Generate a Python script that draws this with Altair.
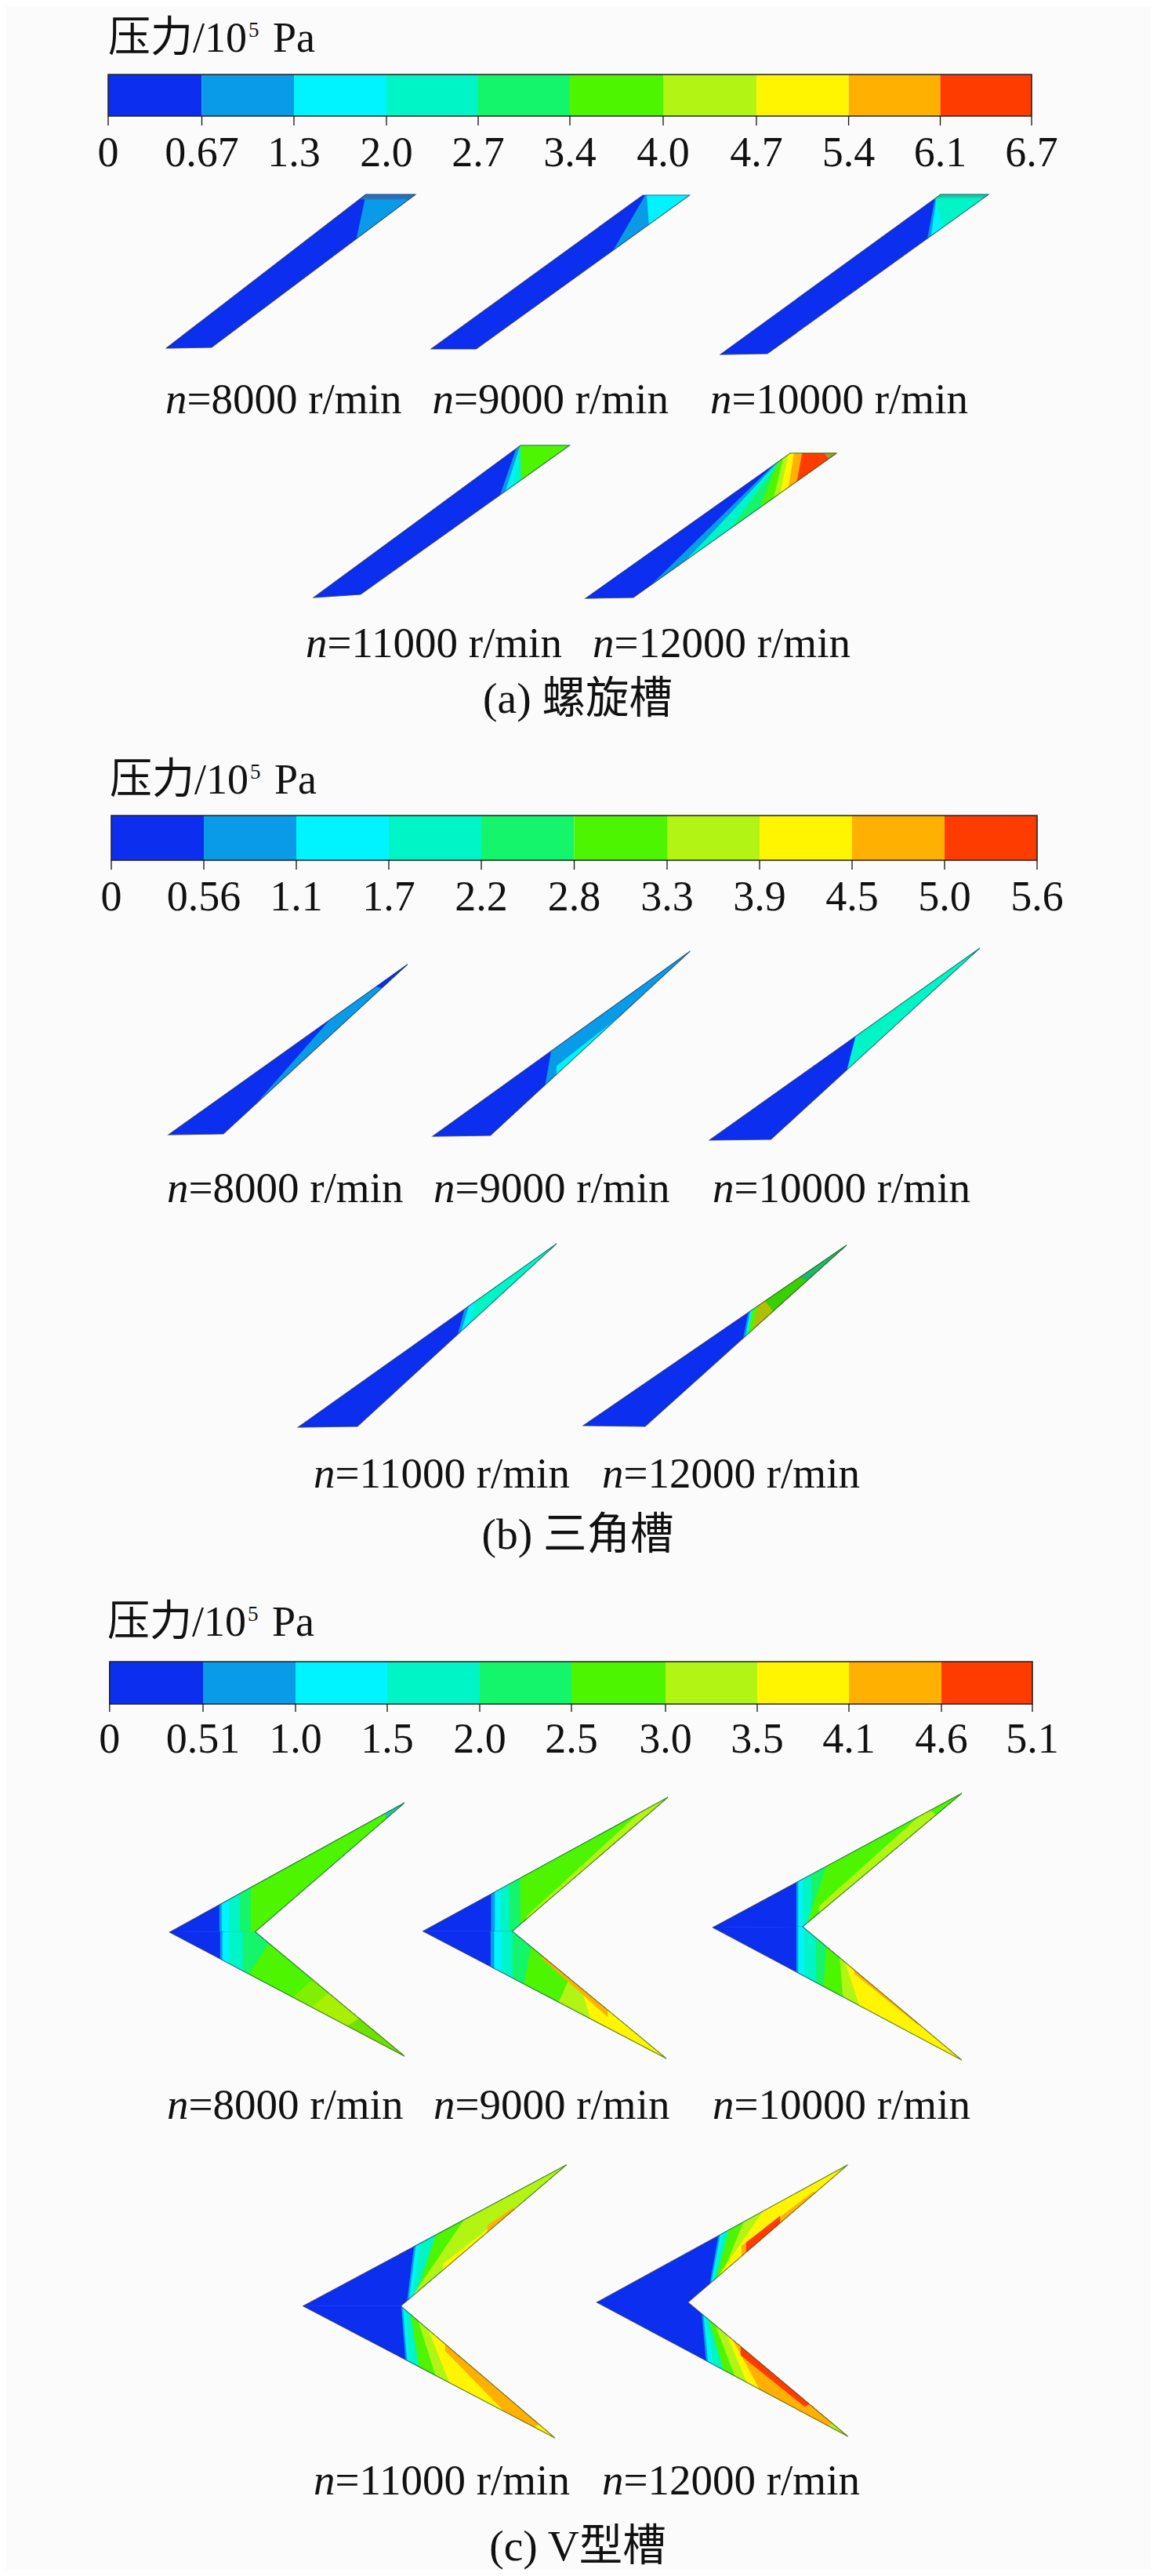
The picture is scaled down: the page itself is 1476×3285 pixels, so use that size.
import altair as alt
import pandas as pd

FONT = "Liberation Serif, Noto Sans CJK SC"
BG = "#FBFBFB"
C0, C1, C2, C3, C4 = "#0B2EEF", "#0A9BE8", "#00F4FF", "#00F5C6", "#14F56C"
C5, C6, C7, C8, C9 = "#4DF500", "#B2F514", "#FFF500", "#FFB000", "#FF3C00"
BAR_COLORS = [C0, C1, C2, C3, C4, C5, C6, C7, C8, C9]

LABELS_A = ["0", "0.67", "1.3", "2.0", "2.7", "3.4", "4.0", "4.7", "5.4", "6.1", "6.7"]
LABELS_B = ["0", "0.56", "1.1", "1.7", "2.2", "2.8", "3.3", "3.9", "4.5", "5.0", "5.6"]
LABELS_C = ["0", "0.51", "1.0", "1.5", "2.0", "2.5", "3.0", "3.5", "4.1", "4.6", "5.1"]
TICKS_A = [138, 257.5, 375, 493, 610, 727, 846, 965, 1082.6, 1199.5, 1316]
TICKS_B = [142, 260, 378, 496, 614, 732.5, 851, 969, 1087, 1205, 1323]
TICKS_C = [139.8, 259, 377, 494, 612, 729, 849, 966, 1083, 1201, 1317]
# top, bottom, tick end, label baseline of each colour bar
BARS = [(95, 148, 160, 212, TICKS_A, LABELS_A),
        (1040, 1097, 1109, 1161, TICKS_B, LABELS_B),
        (2119, 2173, 2183, 2235, TICKS_C, LABELS_C)]

# start of legend title, baseline
TITLES = [(138, 66), (140, 1012), (137, 2086)]
CAPTIONS = [("(a) 螺旋槽", 737, 909), ("(b) 三角槽", 737, 1975), ("(c) V型槽", 737, 3265)]
SPEEDS = [8000, 9000, 10000, 11000, 12000]
SPEED_ROWS = [([211, 551.5, 906, 390, 756], 527, 838),
              ([213, 553, 909, 400, 768], 1533, 1897),
              ([213, 553, 909, 400, 768], 2702, 3181)]

def V(x):
    return ((x, 4000), (x, 0))

def VL(x):
    return ((x, 0), (x, 4000))

# A contour is a line p -> q; the colour fills the right-hand side of travel.
# A band may name further lines that bound it.
SLOTS = [
    ([(466.5, 248), (530, 248), (270, 443), (212, 444)], [
        (C1, (455, 304), (465, 257)),
        ("#2A70B8", (540, 254), (460, 254))]),
    ([(820, 249), (879.5, 249), (607.5, 445), (550, 445)], [
        (C1, (782, 320), (821, 253)),
        (C2, (828, 287), (825.5, 252))]),
    ([(1200, 248), (1261, 248), (979, 451), (919, 452)], [
        (C1, (1183, 305), (1192, 258)),
        (C2, (1188, 300), (1194, 258)),
        (C3, (1203, 290), (1195, 258)),
        ("#1FC4A0", (1270, 252), (1190, 252))]),
    ([(664, 568), (726.5, 568), (460, 758), (400, 762)], [
        (C1, (641, 623), (656, 580)),
        (C2, (648, 617), (660, 580)),
        (C3, (656, 612), (662, 580)),
        (C5, (665, 608), (664, 578))]),
    ([(1008, 578), (1067, 578), (808, 762), (747, 763)], [
        (C1, (829.6, 747), (980, 600)),
        (C2, (850, 743), (982.7, 600)),
        (C3, (911, 677), (985, 600)),
        (C4, (952, 647), (987.8, 597)),
        (C5, (975, 633), (992, 590)),
        (C6, (990, 623), (999, 585)),
        (C7, (998, 617), (1005.6, 580)),
        (C8, (1008, 610), (1013, 578)),
        (C9, (1018, 607), (1023.5, 578)),
        ("#9AA030", (1059, 587), (1051.5, 578))]),
    ([(215, 1447), (519.6, 1230), (285, 1446)], [
        (C1, (348.4, 1383), (418.6, 1303)),
        (C0, (495.8, 1262), (467.7, 1255))]),
    ([(552, 1449), (880.3, 1213), (625.6, 1448)], [
        (C1, (695.8, 1383), (702.8, 1343)),
        (C2, (713.3, 1357), (832.6, 1263), V(710), VL(850))]),
    ([(905, 1454), (1250, 1209), (983.5, 1453)], [
        (C2, (1081.8, 1360), (1092, 1320)),
        (C3, (1085, 1357), (1095.8, 1318))]),
    ([(380.4, 1820), (710, 1586), (456, 1819)], [
        (C1, (585.4, 1697), (592.7, 1670)),
        (C2, (590, 1693), (598.5, 1665)),
        (C3, (600, 1683), (607, 1658))]),
    ([(744, 1818), (1079.8, 1588), (823, 1819)], [
        (C1, (949, 1703), (955, 1673)),
        (C2, (952, 1700), (957, 1673)),
        (C5, (955, 1697), (960, 1672)),
        ("#B0C000", (961, 1692), (966, 1668)),
        ("#38D000", (985, 1670), (974.6, 1657)),
        ("#20B868", (1031, 1633), (1017, 1628))]),
]

# V grooves: upper arm and lower arm have their own contours
V_GROOVES = [
    ((216.4, 2464), (516, 2299), (325.5, 2463.5), (516, 2622), [
        (C1, V(280)), (C2, V(283)), (C3, V(292)), (C4, V(306)), (C5, V(320)),
        ("#20C8A0", V(492))], [
        (C1, V(281)), (C2, V(284)), (C3, V(292)), (C4, V(310)),
        (C5, (318, 2517), (342, 2480)),
        ("#80F000", (373.7, 2547), (401, 2523)),
        ("#A8F000", (401, 2557), (421, 2540)),
        ("#70E000", (449, 2580), (468.5, 2567))]),
    ((539.7, 2462.7), (852, 2292), (653.5, 2462.7), (850, 2625), [
        (C1, V(626.6)), (C2, V(631.4)), (C3, V(638.5)), (C4, V(650)), (C5, V(664)),
        (C6, (690, 2427), (785, 2340), V(672))], [
        (C1, V(626)), (C2, V(630.6)), (C3, V(640.5)), (C4, V(654)),
        (C5, (668, 2533), (678, 2480)),
        (C6, (709.6, 2560), (729.4, 2517)),
        (C7, (753, 2573), (741, 2533)),
        (C8, (773, 2570), (698, 2503), V(692), VL(775))]),
    ((909.4, 2458), (1226.8, 2287), (1024, 2457), (1226.8, 2627), [
        (C1, V(1016)), (C2, V(1018.5)), (C3, V(1024)), (C4, V(1035)),
        (C5, (1031.5, 2447), (1050, 2393)),
        (C6, (1057, 2420), (1124, 2360), V(1045)),
        (C5, (1198, 2317), (1185, 2307))], [
        (C1, V(1016)), (C2, V(1018.5)), (C3, V(1026)), (C4, V(1041)),
        (C5, (1050, 2540), (1053.6, 2493)),
        (C6, (1076, 2553), (1072, 2503)),
        (C7, (1101.8, 2573), (1083, 2517)),
        (C8, (1135, 2553), (1094, 2520), V(1090)),
        (C7, (1161, 2597), (1175.7, 2577))]),
    ((386.7, 2940.7), (722.6, 2760.7), (511.2, 2940.7), (708, 3109), [
        (C1, (520, 2930), (528, 2867)),
        (C2, (522.4, 2927), (530.6, 2865)),
        (C3, (527, 2920), (535.5, 2862)),
        (C5, (537, 2907), (556, 2850)),
        (C6, (554, 2887), (592.7, 2830)),
        (C7, (578, 2877), (660.5, 2813), V(565)),
        (C8, (629, 2833), (651, 2818), V(622), VL(655)),
        (C6, (694.5, 2787), (675, 2780))], [
        (C1, (517.5, 3010), (512.7, 2950)),
        (C2, (519.5, 3010), (514.7, 2950)),
        (C3, (522.5, 3010), (517.7, 2950)),
        (C5, (534.5, 3017), (525, 2957)),
        (C6, (556, 3030), (537, 2970)),
        (C7, (578, 3050), (551.5, 2983)),
        (C8, (631.5, 3063), (573, 3003), V(568)),
        (C7, (680, 3097), (699.3, 3083))]),
    ((761.4, 2936), (1081.3, 2760.7), (877.7, 2936), (1081.3, 3106.7), [
        (C1, (907.8, 2900), (916.5, 2851.7)),
        (C2, (910, 2898), (919, 2850)),
        (C3, (912.6, 2895), (922.3, 2848)),
        (C5, (917.4, 2890), (929.6, 2845)),
        (C6, (929.6, 2880), (949, 2833)),
        (C7, (939, 2870), (975.6, 2817)),
        (C8, (951.4, 2860), (1004.7, 2820), V(946)),
        (C9, (958, 2855), (995, 2826), V(952), VL(995)),
        (C7, (1038.6, 2795), (1024, 2790)),
        (C6, (1072.6, 2768), (1063, 2765))], [
        (C1, (900.5, 3006.7), (895.6, 2953)),
        (C2, (903, 3008), (898, 2955)),
        (C3, (910, 3012), (900.5, 2960)),
        (C5, (922.3, 3020), (907.8, 2970)),
        (C6, (936.8, 3028), (917.4, 2977)),
        (C7, (953.8, 3040), (927, 2977)),
        (C8, (970.8, 3050), (936.8, 2987)),
        (C9, (1024, 3067), (936.8, 2997), V(945)),
        (C8, (1014, 3076), (1038.6, 3063)),
        (C6, (1053, 3096), (1067.7, 3086))]),
]


def clip(poly, p, q):
    """Part of poly to the right of travel along p -> q (screen coordinates)."""
    def side(a):
        return (q[0] - p[0]) * (a[1] - p[1]) - (q[1] - p[1]) * (a[0] - p[0])
    out = []
    for i, a in enumerate(poly):
        b = poly[(i + 1) % len(poly)]
        sa, sb = side(a), side(b)
        if sa >= 0:
            out.append(a)
        if (sa >= 0) != (sb >= 0):
            t = sa / (sa - sb)
            out.append((a[0] + t * (b[0] - a[0]), a[1] + t * (b[1] - a[1])))
    return out


fills, outlines = [], []


def add(rows, poly, color):
    pid = len(set(r["poly"] for r in rows))
    for i, (x, y) in enumerate(poly):
        rows.append({"poly": pid, "i": i, "x": x, "y": y, "c": color})


def paint(outline, bands, base=C0):
    add(fills, outline, base)
    for band in bands:
        pts = []
        for e in band[1:]:
            if isinstance(e[0], tuple):
                pts.extend(e)
            else:
                pts.append(e)
        part = outline
        for p, q in zip(pts[::2], pts[1::2]):
            if len(part) >= 3:
                part = clip(part, p, q)
        if len(part) >= 3:
            add(fills, part, band[0])


for outline, bands in SLOTS:
    paint(outline, bands)
    add(outlines, outline, "#333333")

for tip, top, notch, bottom, upper, lower in V_GROOVES:
    paint([tip, top, notch], upper)
    paint([tip, notch, bottom], lower)
    add(outlines, [tip, top, notch, bottom], "#333333")

XS = alt.Scale(domain=[8, 1468], nice=False, zero=False)
YS = alt.Scale(domain=[3277, 8], nice=False, zero=False)
X = alt.X("x:Q", scale=XS, axis=None)
Y = alt.Y("y:Q", scale=YS, axis=None)

layers = []

# colour bars
rects, frames, ticks, tick_text = [], [], [], []
for top, bottom, tick_end, base, tk, labels in BARS:
    for i, c in enumerate(BAR_COLORS):
        rects.append({"x": tk[i], "x2": tk[i + 1], "y": top, "y2": bottom, "c": c})
    frames.append({"x": tk[0], "x2": tk[-1], "y": top, "y2": bottom})
    for t, lab in zip(tk, labels):
        ticks.append({"x": t, "y": bottom, "y2": tick_end})
        tick_text.append({"x": t, "y": base, "t": lab})

layers.append(alt.Chart(pd.DataFrame(rects)).mark_rect().encode(
    x=X, x2="x2:Q", y=Y, y2="y2:Q", fill=alt.Fill("c:N", scale=None)))
layers.append(alt.Chart(pd.DataFrame(frames)).mark_rect(
    fillOpacity=0, stroke="#222222", strokeWidth=1.6).encode(x=X, x2="x2:Q", y=Y, y2="y2:Q"))
layers.append(alt.Chart(pd.DataFrame(ticks)).mark_rule(
    color="#111111", strokeWidth=1.3).encode(x=X, y=Y, y2="y2:Q"))
layers.append(alt.Chart(pd.DataFrame(tick_text)).mark_text(
    font=FONT, fontSize=54, align="center", baseline="alphabetic", color="#111111"
).encode(x=X, y=Y, text="t:N"))

# grooves
layers.append(alt.Chart(pd.DataFrame(fills)).mark_line(
    interpolate="linear-closed", strokeWidth=0.4).encode(
    x=X, y=Y, order="i:Q", detail="poly:N",
    fill=alt.Fill("c:N", scale=None), stroke=alt.Stroke("c:N", scale=None)))
layers.append(alt.Chart(pd.DataFrame(outlines)).mark_line(
    interpolate="linear-closed", strokeWidth=1.2, color="#333333", opacity=0.55).encode(
    x=X, y=Y, order="i:Q", detail="poly:N"))

# legend titles
t1, t2, t3 = [], [], []
for x, y in TITLES:
    t1.append({"x": x, "y": y, "t": "压力/10"})
    t2.append({"x": x + 179, "y": y - 19, "t": "5"})
    t3.append({"x": x + 210, "y": y, "t": "Pa"})
for rows, size in ((t1, 54), (t2, 27), (t3, 54)):
    layers.append(alt.Chart(pd.DataFrame(rows)).mark_text(
        font=FONT, fontSize=size, align="left", baseline="alphabetic", color="#111111"
    ).encode(x=X, y=Y, text="t:N"))

# speed labels
n_rows, eq_rows = [], []
for starts, y1, y2 in SPEED_ROWS:
    for i, (s, sx) in enumerate(zip(SPEEDS, starts)):
        y = y1 if i < 3 else y2
        n_rows.append({"x": sx, "y": y, "t": "n"})
        eq_rows.append({"x": sx + 27.5, "y": y, "t": f"={s} r/min"})
layers.append(alt.Chart(pd.DataFrame(n_rows)).mark_text(
    font=FONT, fontSize=55, fontStyle="italic", align="left", baseline="alphabetic", color="#111111"
).encode(x=X, y=Y, text="t:N"))
layers.append(alt.Chart(pd.DataFrame(eq_rows)).mark_text(
    font=FONT, fontSize=55, align="left", baseline="alphabetic", color="#111111"
).encode(x=X, y=Y, text="t:N"))

# captions
cap = pd.DataFrame([{"t": t, "x": x, "y": y} for t, x, y in CAPTIONS])
layers.append(alt.Chart(cap).mark_text(
    font=FONT, fontSize=55.5, align="center", baseline="alphabetic", color="#111111"
).encode(x=X, y=Y, text="t:N"))

chart = alt.layer(*layers).properties(
    width=1460, height=3269, padding=0, background=BG,
    autosize=alt.AutoSizeParams(type="none")
).configure_view(stroke=None)

chart.save("out.html", embed_options={"renderer": "svg", "actions": False})
